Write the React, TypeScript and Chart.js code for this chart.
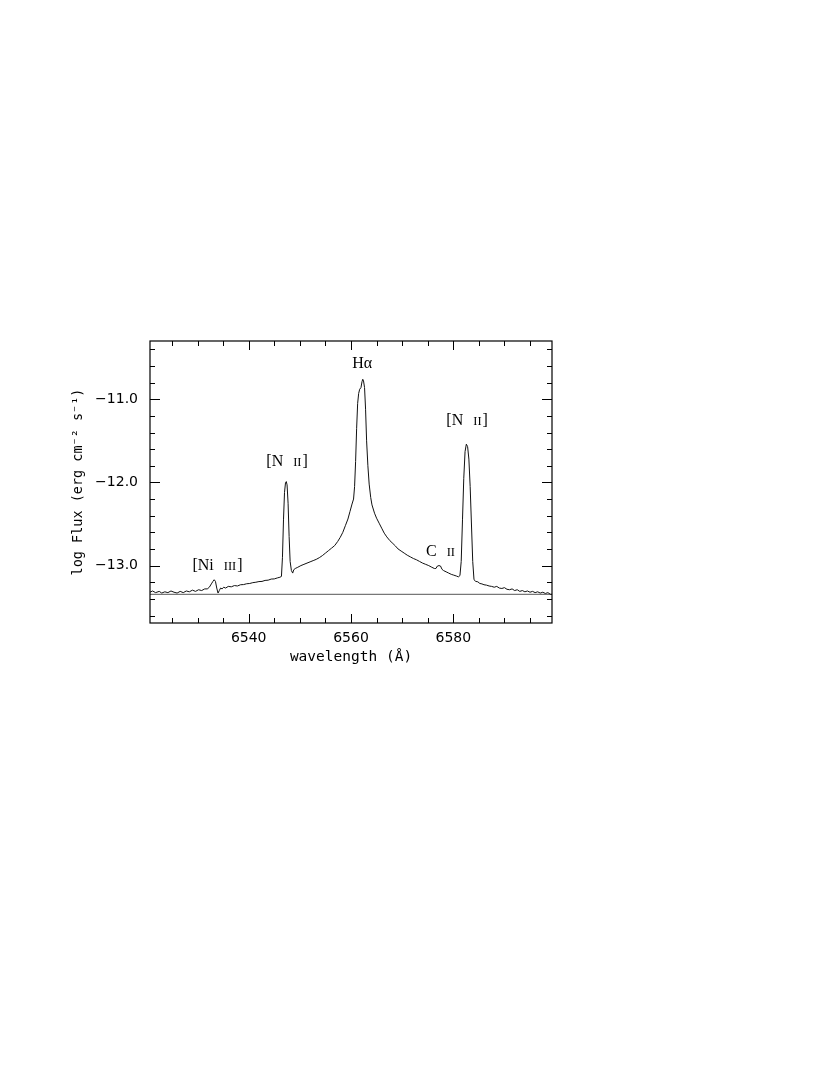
import React, { useEffect, useRef } from "react";
import { Chart, registerables } from "chart.js";

Chart.register(...registerables);

// ---- Data ----
const WAVELENGTH = [
  6520.7, 6521.2, 6521.8, 6522.5, 6523.0, 6523.6, 6524.2, 6524.8, 6525.4, 6526.0,
  6526.6, 6527.2, 6527.8, 6528.4, 6529.0, 6529.6, 6530.2, 6530.8, 6531.4, 6531.9,
  6532.3, 6532.7, 6533.0, 6533.25, 6533.5, 6533.75, 6534.0, 6534.25, 6534.5, 6534.8,
  6535.1, 6535.5, 6536.0, 6536.6, 6537.2, 6537.8, 6538.4, 6539.0, 6539.6, 6540.2,
  6540.8, 6541.4, 6542.0, 6542.6, 6543.2, 6543.8, 6544.4, 6545.0, 6545.6, 6546.1,
  6546.4, 6546.6, 6546.8, 6547.0, 6547.2, 6547.35, 6547.5, 6547.7, 6547.9, 6548.1,
  6548.35, 6548.6, 6548.8, 6549.1, 6549.6, 6550.2, 6550.8, 6551.4, 6552.0, 6552.6,
  6553.2, 6553.8, 6554.4, 6555.0, 6555.6, 6556.2, 6556.8, 6557.4, 6557.9, 6558.4,
  6558.9, 6559.4, 6559.8, 6560.2, 6560.5, 6560.7, 6560.9, 6561.1, 6561.3, 6561.5,
  6561.7, 6561.95, 6562.15, 6562.3, 6562.45, 6562.65, 6562.85, 6563.05, 6563.3, 6563.55,
  6563.85, 6564.1, 6564.6, 6565.0, 6565.5, 6566.0, 6566.5, 6567.0, 6567.6, 6568.2,
  6568.7, 6569.2, 6569.8, 6570.4, 6571.0, 6571.6, 6572.2, 6572.8, 6573.4, 6574.0,
  6574.6, 6575.2, 6575.8, 6576.3, 6576.6, 6576.9, 6577.2, 6577.5, 6577.8, 6578.1,
  6578.6, 6579.1, 6579.6, 6580.1, 6580.6, 6581.0, 6581.3, 6581.55, 6581.8, 6582.05,
  6582.3, 6582.55, 6582.8, 6583.05, 6583.3, 6583.55, 6583.8, 6584.05, 6584.4, 6584.8,
  6585.2, 6585.6, 6586.0, 6586.5, 6587.0, 6587.5, 6588.0, 6588.5, 6589.0, 6589.5,
  6590.0, 6590.5, 6591.0, 6591.5, 6592.0, 6592.5, 6593.0, 6593.5, 6594.0, 6594.5,
  6595.0, 6595.5, 6596.0, 6596.5, 6597.0, 6597.5, 6598.0, 6598.5, 6599.0, 6599.3,
];

const LOG_FLUX = [
  -13.32, -13.305, -13.325, -13.31, -13.33, -13.315, -13.325, -13.305, -13.32, -13.33,
  -13.31, -13.325, -13.305, -13.315, -13.295, -13.31, -13.29, -13.3, -13.28, -13.28,
  -13.26, -13.22, -13.19, -13.17, -13.19, -13.27, -13.33, -13.3, -13.27, -13.28,
  -13.26, -13.27, -13.25, -13.255, -13.24, -13.245, -13.23, -13.228, -13.218, -13.215,
  -13.205, -13.2, -13.192, -13.19, -13.178, -13.175, -13.162, -13.16, -13.148, -13.14,
  -13.13, -12.9, -12.45, -12.12, -12.0, -11.99, -12.03, -12.25, -12.65, -12.95,
  -13.06, -13.09, -13.05, -13.035, -13.02, -13.0, -12.985, -12.97, -12.955, -12.94,
  -12.925, -12.905, -12.88, -12.85, -12.82, -12.79, -12.76, -12.71, -12.66, -12.6,
  -12.52, -12.44, -12.35, -12.26, -12.2, -12.05, -11.75, -11.35, -11.05, -10.93,
  -10.88, -10.86, -10.79, -10.76, -10.78, -10.86, -11.12, -11.5, -11.8, -12.02,
  -12.18, -12.27, -12.37, -12.43, -12.49, -12.55, -12.61, -12.655, -12.7, -12.735,
  -12.765, -12.8, -12.825, -12.85, -12.875, -12.895, -12.915, -12.93, -12.95, -12.97,
  -12.985, -13.0, -13.02, -13.035, -13.035, -13.005, -13.0, -13.005, -13.045, -13.06,
  -13.075, -13.09, -13.105, -13.115, -13.125, -13.135, -13.12, -12.95, -12.45, -11.95,
  -11.63, -11.54, -11.57, -11.72, -12.05, -12.5, -12.95, -13.17, -13.19, -13.195,
  -13.215, -13.22, -13.23, -13.235, -13.245, -13.25, -13.26, -13.25, -13.27, -13.275,
  -13.265, -13.285, -13.29, -13.28, -13.3, -13.29, -13.31, -13.3, -13.315, -13.305,
  -13.32, -13.31, -13.325, -13.315, -13.33, -13.32, -13.335, -13.325, -13.345, -13.345,
];

const BASELINE_LEVEL = -13.345;

const X_MIN = 6520.7;
const X_MAX = 6599.3;
const Y_MIN = -13.69;
const Y_MAX = -10.3;

const X_TICK_LABELS = [6540, 6560, 6580];
const Y_TICK_LABELS = [-13, -12, -11];
const X_MINOR_STEP = 5;
const X_MAJOR_STEP = 20;
const Y_MINOR_STEP = 0.2;

const LINE_NAMES = ["[Ni III]", "[N II]", "H\u03b1", "C II", "[N II]"];
const LINE_LABEL_WAVELENGTH = [6533.9, 6547.5, 6562.2, 6577.6, 6582.7];
const LINE_LABEL_FLUX = [-13.007, -11.754, -10.571, -12.835, -11.262];

// ---- Drawing helpers ----
function drawLineLabel(ctx: CanvasRenderingContext2D, text: string, cx: number, cy: number) {
  const bigFont = '16px "Liberation Serif"';
  const smallFont = '12.5px "Liberation Serif"';
  const parts = text.split(/(I+)/).filter((p) => p.length > 0);
  const extraGap = 6;
  const widths: number[] = [];
  let total = 0;
  parts.forEach((p) => {
    const isSmall = /^I+$/.test(p);
    ctx.font = isSmall ? smallFont : bigFont;
    let w = ctx.measureText(p).width;
    if (p.endsWith(" ")) w += extraGap;
    if (isSmall) w += 1;
    widths.push(w);
    total += w;
  });
  let x = cx - total / 2;
  ctx.textBaseline = "middle";
  ctx.textAlign = "left";
  ctx.fillStyle = "#000";
  parts.forEach((p, i) => {
    const isSmall = /^I+$/.test(p);
    ctx.font = isSmall ? smallFont : bigFont;
    ctx.fillText(p, x, isSmall ? cy + 1 : cy);
    x += widths[i];
  });
}

const framePlugin = {
  id: "pgplotFrame",
  afterDraw(chart: any) {
    const { ctx, chartArea, scales } = chart;
    const { left, right, top, bottom } = chartArea;
    const xs = scales.x;
    const ys = scales.y;
    ctx.save();
    ctx.strokeStyle = "#000";
    ctx.lineWidth = 1.2;
    ctx.strokeRect(left, top, right - left, bottom - top);

    ctx.beginPath();
    const kx0 = Math.ceil(X_MIN / X_MINOR_STEP);
    const kx1 = Math.floor(X_MAX / X_MINOR_STEP);
    for (let k = kx0; k <= kx1; k++) {
      const v = k * X_MINOR_STEP;
      const px = Math.round(xs.getPixelForValue(v)) + 0.5;
      const len = v % X_MAJOR_STEP === 0 ? 9 : 5;
      ctx.moveTo(px, bottom);
      ctx.lineTo(px, bottom - len);
      ctx.moveTo(px, top);
      ctx.lineTo(px, top + len);
    }
    const ky0 = Math.ceil(Y_MIN / Y_MINOR_STEP - 1e-9);
    const ky1 = Math.floor(Y_MAX / Y_MINOR_STEP + 1e-9);
    for (let k = ky0; k <= ky1; k++) {
      const v = k * Y_MINOR_STEP;
      const py = Math.round(ys.getPixelForValue(v)) + 0.5;
      const len = k % 5 === 0 ? 10 : 5;
      ctx.moveTo(left, py);
      ctx.lineTo(left + len, py);
      ctx.moveTo(right, py);
      ctx.lineTo(right - len, py);
    }
    ctx.lineWidth = 1;
    ctx.stroke();

    LINE_NAMES.forEach((name, i) => {
      drawLineLabel(
        ctx,
        name,
        xs.getPixelForValue(LINE_LABEL_WAVELENGTH[i]),
        ys.getPixelForValue(LINE_LABEL_FLUX[i])
      );
    });
    ctx.restore();
  },
};

export default function App() {
  const canvasRef = useRef<HTMLCanvasElement | null>(null);

  useEffect(() => {
    const canvas = canvasRef.current;
    if (!canvas) return;
    const spectrum = WAVELENGTH.map((w, i) => ({ x: w, y: LOG_FLUX[i] }));
    const baseline = [
      { x: X_MIN, y: BASELINE_LEVEL },
      { x: X_MAX, y: BASELINE_LEVEL },
    ];
    const chart = new Chart(canvas, {
      type: "scatter",
      data: {
        datasets: [
          {
            data: spectrum,
            showLine: true,
            borderColor: "#111",
            borderWidth: 1,
            pointRadius: 0,
            tension: 0,
          },
          {
            data: baseline,
            showLine: true,
            borderColor: "#555",
            borderWidth: 1,
            pointRadius: 0,
          },
        ],
      },
      options: {
        animation: false,
        responsive: false,
        devicePixelRatio: 1,
        layout: { padding: { left: 0, right: 278, top: 341, bottom: 392 } },
        plugins: { legend: { display: false }, tooltip: { enabled: false } },
        scales: {
          x: {
            type: "linear",
            min: X_MIN,
            max: X_MAX,
            grid: { display: false, drawTicks: false },
            border: { display: false },
            afterBuildTicks: (s: any) => {
              s.ticks = X_TICK_LABELS.map((v) => ({ value: v }));
            },
            afterFit: (s: any) => {
              s.height = 60;
            },
            ticks: {
              color: "#000",
              padding: 7,
              maxRotation: 0,
              font: { family: "DejaVu Sans", size: 14 },
              callback: (v: any) => String(v),
            },
            title: {
              display: true,
              text: "wavelength (\u00c5)",
              color: "#000",
              font: { family: "DejaVu Sans Mono", size: 14.5 },
              padding: { top: 0, bottom: 17 },
            },
          },
          y: {
            type: "linear",
            min: Y_MIN,
            max: Y_MAX,
            grid: { display: false, drawTicks: false },
            border: { display: false },
            afterBuildTicks: (s: any) => {
              s.ticks = Y_TICK_LABELS.map((v) => ({ value: v }));
            },
            afterFit: (s: any) => {
              s.width = 150;
            },
            ticks: {
              color: "#000",
              padding: 12,
              font: { family: "DejaVu Sans", size: 14 },
              callback: (v: any) => (v < 0 ? "\u2212" : "") + Math.abs(Number(v)).toFixed(1),
            },
            title: {
              display: true,
              text: "log Flux (erg cm\u207b\u00b2 s\u207b\u00b9)",
              color: "#000",
              font: { family: "DejaVu Sans Mono", size: 13.5 },
              padding: { top: 70, bottom: 0 },
            },
          },
        },
      },
      plugins: [framePlugin],
    });
    return () => chart.destroy();
  }, []);

  return (
    <div style={{ position: "absolute", left: 0, top: 0, width: 830, height: 1075, background: "#fff" }}>
      <canvas ref={canvasRef} width={830} height={1075} style={{ width: 830, height: 1075, display: "block" }} />
    </div>
  );
}
